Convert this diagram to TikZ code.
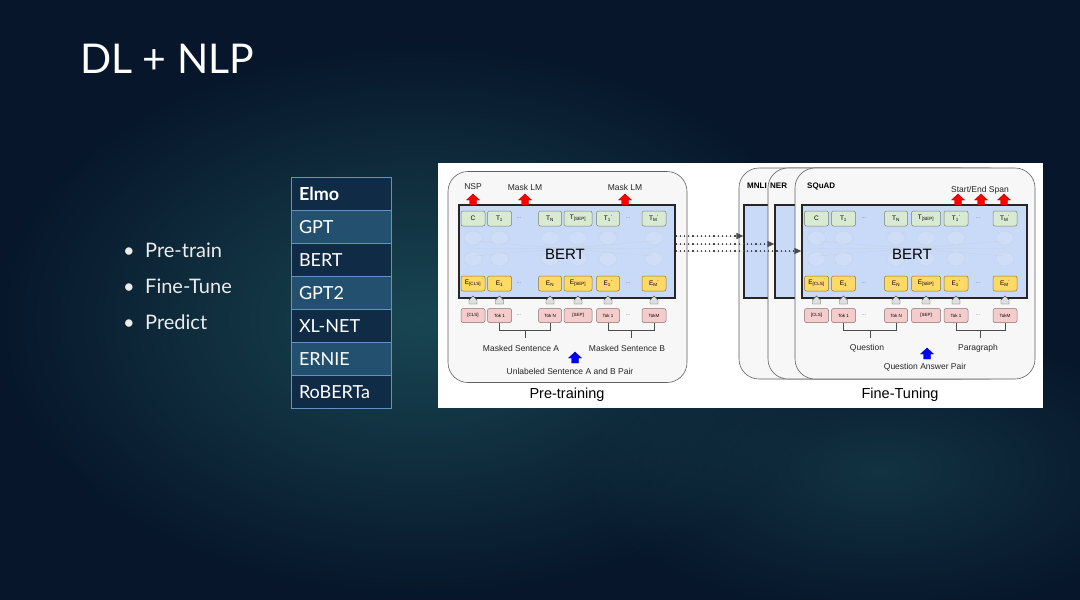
\documentclass[tikz,border=0pt]{standalone}
\usepackage{fontspec}
\setmainfont{Lato}
\newfontfamily\arialf{Liberation Sans}
\usetikzlibrary{arrows.meta,positioning,calc,fadings}

\definecolor{bgdark}{HTML}{07162A}
\definecolor{bgteal}{HTML}{1F5660}
\definecolor{rowdark}{HTML}{0F2B45}
\definecolor{rowlight}{HTML}{23506F}
\definecolor{tblline}{HTML}{5E93C4}
\definecolor{bertblue}{HTML}{C9DAF8}
\definecolor{tgreen}{HTML}{D9EAD3}
\definecolor{eyellow}{HTML}{FFD966}
\definecolor{kpink}{HTML}{F4CCCC}

\tikzfading[name=glow,inner color=transparent!0,outer color=transparent!100]

% small block arrows (x, bottom y, colour)
\newcommand{\blockarrow}[3]{%
  \filldraw[fill=#3,draw=#3!70!black,line width=0.4pt]
    (#1-3.5,#2) -- (#1-3.5,#2-5) -- (#1-6.5,#2-5) -- (#1,#2-11)
    -- (#1+6.5,#2-5) -- (#1+3.5,#2-5) -- (#1+3.5,#2) -- cycle;}
\newcommand{\housearr}[2]{%
  \filldraw[fill=gray!25,draw=gray!70!black,line width=0.4pt]
    (#1-4,#2) -- (#1-4,#2-4) -- (#1,#2-8) -- (#1+4,#2-4) -- (#1+4,#2) -- cycle;}

\begin{document}
\begin{tikzpicture}[x=1pt,y=-1pt,
  >={Triangle[length=7pt,width=6pt]},
  cell/.style={draw=tblline,fill=#1,line width=0.8pt,minimum width=100pt,
               minimum height=33.1pt,inner sep=0pt,text width=84pt,align=left,
               text=white,font=\fontsize{18}{20}\selectfont},
  panel/.style={draw=gray!75!black,fill=gray!6,rounded corners=20pt,line width=0.6pt,
                minimum width=#1,minimum height=211pt,inner sep=0pt},
  bertbox/.style={draw=black!85,fill=bertblue,line width=1.2pt,minimum width=#1,
                  minimum height=93pt,inner sep=0pt},
  tokbox/.style={rectangle,rounded corners=2pt,draw=#1!55!black,fill=#1,line width=0.5pt,
                 minimum height=15pt,inner sep=0pt,font=\arialf\fontsize{6.5}{7}\selectfont},
  tbox/.style={tokbox=tgreen},
  ebox/.style={tokbox=eyellow},
  kbox/.style={tokbox=kpink,minimum height=14pt,font=\arialf\fontsize{4.5}{5}\selectfont},
  net/.style={draw=gray!60,draw opacity=0.25,fill=white,fill opacity=0.12,line width=0.4pt},
  lbl/.style={font=\arialf\fontsize{8.5}{10}\selectfont,text=black!85,inner sep=0pt},
  task/.style={font=\arialf\bfseries\fontsize{8}{10}\selectfont,anchor=west,inner sep=0pt},
  dots/.style={font=\arialf\fontsize{6}{7}\selectfont,text=gray},
  brk/.style={draw=black!70,line width=0.5pt},
  dotarr/.style={->,draw=gray!60!black,fill=gray!60!black,line width=1.2pt,
                 dash pattern=on 1.2pt off 3pt},
]
  \useasboundingbox (0,0) rectangle (1080,600);

  % background
  \fill[bgdark] (0,0) rectangle (1080,600);
  \fill[bgteal,path fading=glow,opacity=0.75] (420,320) ellipse (430pt and 280pt);
  \fill[bgteal,path fading=glow,opacity=0.45] (880,470) ellipse (300pt and 150pt);

  % title and bullets
  \node[anchor=base west,inner sep=0pt,text=white,font=\fontsize{41}{48}\selectfont]
    (title) at (80,73) {DL + NLP};
  \foreach \i/\t/\y in {1/Pre-train/257, 2/Fine-Tune/293, 3/Predict/329}
    \node[anchor=base west,inner sep=0pt,text=gray!15,font=\fontsize{20}{24}\selectfont]
      (b\i) at (123,\y) {\makebox[22pt][l]{\textbullet}\t};

  % model table
  \foreach \i/\t/\c in {1/\textbf{Elmo}/rowdark, 2/GPT/rowlight, 3/BERT/rowdark,
                        4/GPT2/rowlight, 5/XL-NET/rowdark, 6/ERNIE/rowlight, 7/RoBERTa/rowdark}
    \node[cell=\c] (r\i) at (341,{177+33.1*(\i-0.5)}) {\t};

  % figure panel
  \node[fill=white,minimum width=605pt,minimum height=245pt,inner sep=0pt] (fig) at (740.5,285.5) {};

  % pre-training
  \node[panel=239pt] (ppanel) at (567.5,277) {};
  \node[bertbox=216pt] (pbert) at (567,251.5) {};
  \foreach \i/\x/\w/\tl/\el/\kl in {
      1/473/24/C/E\textsubscript{[CLS]}/[CLS],
      2/499.5/24/T\textsubscript{1}/E\textsubscript{1}/Tok 1,
      3/550/23/T\textsubscript{N}/E\textsubscript{N}/Tok N,
      4/578/28/T\textsubscript{[SEP]}/E\textsubscript{[SEP]}/[SEP],
      5/608/23/T\textsubscript{1}\textsuperscript{'}/E\textsubscript{1}\textsuperscript{'}/Tok 1,
      6/654/24/T\textsubscript{M}\textsuperscript{'}/E\textsubscript{M}\textsuperscript{'}/TokM} {
    \draw[net] (\x,238) ellipse (9pt and 7pt);
    \draw[net] (\x,259) ellipse (9pt and 7pt);
    \node[tbox,minimum width=\w] (pt\i) at (\x,218.5) {\tl};
    \node[ebox,minimum width=\w] (pe\i) at (\x,283.5) {\el};
    \node[kbox,minimum width=\w] (pk\i) at (\x,315.5) {\kl};
    \housearr{\x}{304}
  }
  \draw[net,fill=none] (473,241) -- (654,256) (473,256) -- (654,241) (473,248.5) -- (654,248.5);
  \foreach \x in {519,628}
    \foreach \y in {218.5,283.5,315.5}
      \node[dots] at (\x,\y) {...};
  \node[font=\arialf\fontsize{15}{17}\selectfont,inner sep=0pt] (pname) at (565,254) {BERT};
  \draw[brk] (pk2.south) -- ++(0,7) -| (pk3.south);
  \draw[brk] ($(pk2.south)!0.5!(pk3.south)+(0,7)$) -- ++(0,8);
  \draw[brk] (pk5.south) -- ++(0,7) -| (pk6.south);
  \draw[brk] ($(pk5.south)!0.5!(pk6.south)+(0,7)$) -- ++(0,8);
  \node[lbl] (msa) at (521,348) {Masked Sentence A};
  \node[lbl] (msb) at (627,348) {Masked Sentence B};
  \node[lbl] (pair) at (570,371) {Unlabeled Sentence A and B Pair};
  \node[lbl] (nsp) at (473,187) {NSP};
  \node[lbl] (mlm1) at (525,187) {Mask LM};
  \node[lbl] (mlm2) at (625,187) {Mask LM};
  \blockarrow{473}{205}{red}
  \blockarrow{525}{205}{red}
  \blockarrow{625}{205}{red}
  \blockarrow{575}{363}{blue}
  \node[font=\arialf\fontsize{14.5}{17}\selectfont,inner sep=0pt] (ptitle) at (567,395) {Pre-training};

  % fine-tuning stack
  \node[panel=241pt] (mpanel) at (859.5,273.5) {};
  \node[bertbox=226pt] (mbert) at (857,251.5) {};
  \node[task] (mnli) at (747,186) {MNLI};
  \node[panel=241pt] (npanel) at (888.5,273.5) {};
  \node[bertbox=226pt] (nbert) at (888,251.5) {};
  \node[task] (ner) at (770,186) {NER};
  \node[panel=240pt] (spanel) at (915,273.5) {};
  \node[bertbox=225pt] (sbert) at (914.5,251.5) {};
  \node[task] (squad) at (807,186) {SQuAD};
  \foreach \i/\x/\w/\tl/\el/\kl in {
      1/816.5/24/C/E\textsubscript{[CLS]}/[CLS],
      2/843.5/24/T\textsubscript{1}/E\textsubscript{1}/Tok 1,
      3/896/23/T\textsubscript{N}/E\textsubscript{N}/Tok N,
      4/926/29/T\textsubscript{[SEP]}/E\textsubscript{[SEP]}/[SEP],
      5/956/24/T\textsubscript{1}\textsuperscript{'}/E\textsubscript{1}\textsuperscript{'}/Tok 1,
      6/1005/24/T\textsubscript{M}\textsuperscript{'}/E\textsubscript{M}\textsuperscript{'}/TokM} {
    \draw[net] (\x,238) ellipse (9pt and 7pt);
    \draw[net] (\x,259) ellipse (9pt and 7pt);
    \node[tbox,minimum width=\w] (ft\i) at (\x,218.5) {\tl};
    \node[ebox,minimum width=\w] (fe\i) at (\x,283.5) {\el};
    \node[kbox,minimum width=\w] (fk\i) at (\x,315.5) {\kl};
    \housearr{\x}{304}
  }
  \draw[net,fill=none] (816.5,241) -- (1005,256) (816.5,256) -- (1005,241) (816.5,248.5) -- (1005,248.5);
  \foreach \x in {864,978}
    \foreach \y in {218.5,283.5,315.5}
      \node[dots] at (\x,\y) {...};
  \node[font=\arialf\fontsize{15}{17}\selectfont,inner sep=0pt] (fname) at (912,254) {BERT};
  \draw[brk] (fk2.south) -- ++(0,7) -| (fk3.south);
  \draw[brk] ($(fk2.south)!0.5!(fk3.south)+(0,7)$) -- ++(0,8);
  \draw[brk] (fk5.south) -- ++(0,7) -| (fk6.south);
  \draw[brk] ($(fk5.south)!0.5!(fk6.south)+(0,7)$) -- ++(0,8);
  \node[lbl] (quest) at (867,348) {Question};
  \node[lbl] (para) at (978,348) {Paragraph};
  \node[lbl] (qapair) at (925,367) {Question Answer Pair};
  \node[lbl] (span) at (980,190) {Start/End Span};
  \blockarrow{958}{205}{red}
  \blockarrow{981}{205}{red}
  \blockarrow{1004}{205}{red}
  \blockarrow{927}{359}{blue}
  \node[font=\arialf\fontsize{14.5}{17}\selectfont,inner sep=0pt] (ftitle) at (900,395) {Fine-Tuning};

  % transfer to the tasks
  \draw[dotarr] ([yshift=15.5pt]pbert.east) -- ([yshift=15.5pt]mbert.west);
  \draw[dotarr] ([yshift=7.5pt]pbert.east) -- ([yshift=7.5pt]nbert.west);
  \draw[dotarr] ([yshift=0.5pt]pbert.east) -- ([yshift=0.5pt]sbert.west);
\end{tikzpicture}
\end{document}
